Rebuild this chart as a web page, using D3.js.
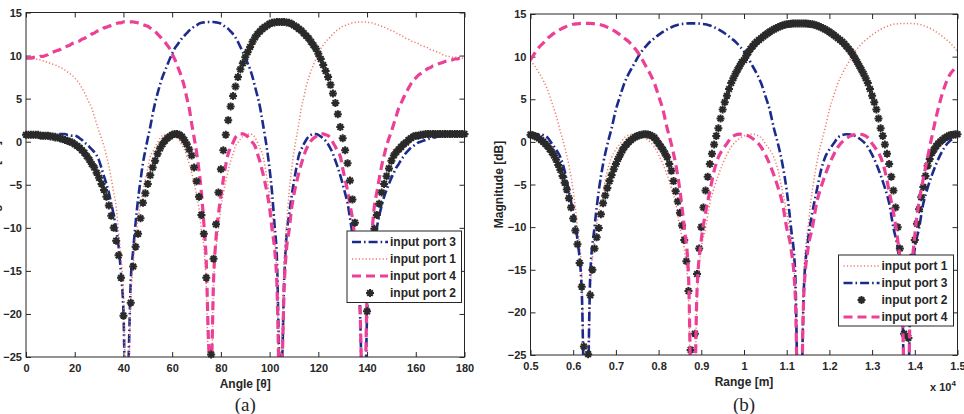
<!DOCTYPE html>
<html>
<head>
<meta charset="utf-8">
<script src="https://cdn.jsdelivr.net/npm/d3@7"></script>
<style>
  body { margin: 0; background: #fff; }
  svg text { font-family: "Liberation Sans", Arial, sans-serif; fill: #262626; }
</style>
</head>
<body>
<svg id="chart" width="964" height="414"></svg>
<script>
// ---------- data: panel (a), magnitude [dB] vs angle [deg] ----------
var angleA = [
  0,1,2,3,4,5,6,7,8,9, 10,11,12,13,14,15,16,17,18,19,
  20,21,22,23,24,25,26,27,28,29, 30,31,32,33,34,35,36,37,38,39,
  40,41,42,43,44,45,46,47,48,49, 50,51,52,53,54,55,56,57,58,59,
  60,61,62,63,64,65,66,67,68,69, 70,71,72,73,74,75,76,77,78,79,
  80,81,82,83,84,85,86,87,88,89, 90,91,92,93,94,95,96,97,98,99,
  100,101,102,103,104,105,106,107,108,109, 110,111,112,113,114,115,116,117,118,119,
  120,121,122,123,124,125,126,127,128,129, 130,131,132,133,134,135,136,137,138,139,
  140,141,142,143,144,145,146,147,148,149, 150,151,152,153,154,155,156,157,158,159,
  160,161,162,163,164,165,166,167,168,169, 170,171,172,173,174,175,176,177,178,179,
  180
];

var port2A = [
  0.8,0.8,0.8,0.8,0.8,0.8,0.7,0.7,0.7,0.7,
  0.6,0.6,0.5,0.5,0.4,0.3,0.2,0.1,0.0,-0.1,
  -0.3,-0.5,-0.7,-1.0,-1.3,-1.7,-2.1,-2.6,-3.0,-3.6,
  -4.2,-4.9,-5.6,-6.4,-7.4,-8.6,-10.0,-11.5,-13.2,-15.8,
  -20.2,-32,-29,-18.7,-14.5,-12.2,-10.7,-8.9,-7.1,-6.0,
  -4.9,-3.9,-3.0,-2.2,-1.4,-0.8,-0.3,0.1,0.4,0.6,
  0.8,0.9,0.9,0.8,0.6,0.2,-0.3,-0.9,-1.6,-3.0,
  -4.6,-6.4,-8.5,-10.7,-15.8,-25.7,-24.7,-13.6,-9.6,-5.9,
  -3.2,-1.0,0.8,2.5,4.1,5.3,6.4,7.5,8.4,9.1,
  9.8,10.4,11.0,11.6,12.1,12.5,12.8,13.1,13.3,13.5,
  13.7,13.8,13.85,13.9,13.9,13.9,13.9,13.85,13.8,13.7,
  13.5,13.35,13.1,12.9,12.6,12.3,12.0,11.6,11.2,10.8,
  10.2,9.6,8.9,8.2,7.5,6.6,5.6,4.5,3.2,1.7,
  0.4,-1.0,-2.5,-4.5,-6.7,-9.4,-12.6,-16.2,-26.3,-31.8,
  -19.7,-15.3,-12.1,-10.1,-8.5,-7.2,-5.9,-4.9,-4.0,-3.1,
  -2.2,-1.6,-1.2,-0.9,-0.6,-0.3,-0.1,0.2,0.4,0.6,
  0.7,0.7,0.8,0.8,0.9,0.9,0.9,0.9,0.9,0.9,
  0.9,0.9,0.9,0.9,0.9,0.9,0.9,0.9,0.9,0.9,
  0.9
];

var port3A = [
  0.9,
  0.9,0.9,0.9,0.9,0.9,0.9,0.9,0.9,0.9,0.9,
  0.9,0.9,0.9,0.9,0.9,0.9,0.8,0.8,0.7,0.7,
  0.6,0.4,0.2,-0.1,-0.3,-0.6,-0.9,-1.2,-1.6,-2.2,
  -3.1,-4.0,-4.9,-5.9,-7.2,-8.5,-10.1,-12.1,-15.3,-19.7,
  -31.8,-26.3,-16.2,-12.6,-9.4,-6.7,-4.5,-2.5,-1.0,0.4,
  1.7,3.2,4.5,5.6,6.6,7.5,8.2,8.9,9.6,10.2,
  10.8,11.2,11.6,12.0,12.3,12.6,12.9,13.1,13.35,13.5,
  13.7,13.8,13.85,13.9,13.9,13.9,13.9,13.85,13.8,13.7,
  13.5,13.3,13.1,12.8,12.5,12.1,11.6,11.0,10.4,9.8,
  9.1,8.4,7.5,6.4,5.3,4.1,2.5,0.8,-1.0,-3.2,
  -5.9,-9.6,-13.6,-24.7,-25.7,-15.8,-10.7,-8.5,-6.4,-4.6,
  -3.0,-1.6,-0.9,-0.3,0.2,0.6,0.8,0.9,0.9,0.8,
  0.6,0.4,0.1,-0.3,-0.8,-1.4,-2.2,-3.0,-3.9,-4.9,
  -6.0,-7.1,-8.9,-10.7,-12.2,-14.5,-18.7,-29,-32,-20.2,
  -15.8,-13.2,-11.5,-10.0,-8.6,-7.4,-6.4,-5.6,-4.9,-4.2,
  -3.6,-3.0,-2.6,-2.1,-1.7,-1.3,-1.0,-0.7,-0.5,-0.3,
  -0.1,0.0,0.1,0.2,0.3,0.4,0.5,0.5,0.6,0.6,
  0.7,0.7,0.7,0.7,0.8,0.8,0.8,0.8,0.8,0.8
];

var port4A = [
  9.7,9.7,9.7,9.8,9.8,9.8,9.9,9.9,10.0,10.1,
  10.3,10.4,10.5,10.6,10.7,10.9,11.0,11.1,11.2,11.4,
  11.5,11.6,11.7,11.9,12.0,12.2,12.3,12.5,12.6,12.8,
  12.9,13.0,13.2,13.3,13.4,13.5,13.6,13.7,13.8,13.8,
  13.9,13.9,13.9,13.9,13.9,13.85,13.8,13.7,13.6,13.5,
  13.4,13.2,13.0,12.8,12.5,12.2,11.9,11.6,11.2,10.8,
  10.2,9.6,8.9,8.2,7.4,6.4,5.1,3.9,2.1,0.5,
  -1.2,-3.3,-5.9,-9.5,-14.0,-23.7,-26.4,-16.0,-11.2,-8.4,
  -6.3,-4.4,-2.7,-1.4,-0.7,-0.1,0.5,0.8,0.9,0.9,
  0.8,0.6,0.3,-0.1,-0.5,-1.4,-2.3,-3.4,-4.6,-6.0,
  -7.7,-10.2,-12.3,-16.6,-27.2,-26.2,-16.8,-12.3,-10.3,-7.8,
  -6.1,-4.8,-3.6,-2.6,-1.7,-0.9,-0.4,0.1,0.4,0.6,
  0.8,0.9,0.9,0.8,0.7,0.4,-0.1,-0.6,-1.2,-1.7,
  -3.1,-4.4,-5.7,-7.3,-8.9,-11.2,-14.3,-18.2,-28.3,-29.8,
  -17.7,-13.5,-10.5,-7.5,-5.9,-4.3,-2.8,-1.6,-0.5,0.4,
  1.2,2.1,3.0,3.9,4.5,5.1,5.7,6.2,6.7,7.1,
  7.4,7.7,7.9,8.1,8.3,8.5,8.6,8.8,8.9,9.0,
  9.1,9.2,9.3,9.4,9.5,9.5,9.6,9.6,9.7,9.7,
  9.7
];

var port1A = [
  9.7,
  9.7,9.7,9.6,9.6,9.5,9.5,9.4,9.3,9.2,9.1,
  9.0,8.9,8.8,8.6,8.5,8.3,8.1,7.9,7.7,7.4,
  7.1,6.7,6.2,5.7,5.1,4.5,3.9,3.0,2.1,1.2,
  0.4,-0.5,-1.6,-2.8,-4.3,-5.9,-7.5,-10.5,-13.5,-17.7,
  -29.8,-28.3,-18.2,-14.3,-11.2,-8.9,-7.3,-5.7,-4.4,-3.1,
  -1.7,-1.2,-0.6,-0.1,0.4,0.7,0.8,0.9,0.9,0.8,
  0.6,0.4,0.1,-0.4,-0.9,-1.7,-2.6,-3.6,-4.8,-6.1,
  -7.8,-10.3,-12.3,-16.8,-26.2,-27.2,-16.6,-12.3,-10.2,-7.7,
  -6.0,-4.6,-3.4,-2.3,-1.4,-0.5,-0.1,0.3,0.6,0.8,
  0.9,0.9,0.8,0.5,-0.1,-0.7,-1.4,-2.7,-4.4,-6.3,
  -8.4,-11.2,-16.0,-26.4,-23.7,-14.0,-9.5,-5.9,-3.3,-1.2,
  0.5,2.1,3.9,5.1,6.4,7.4,8.2,8.9,9.6,10.2,
  10.8,11.2,11.6,11.9,12.2,12.5,12.8,13.0,13.2,13.4,
  13.5,13.6,13.7,13.8,13.85,13.9,13.9,13.9,13.9,13.9,
  13.8,13.8,13.7,13.6,13.5,13.4,13.3,13.2,13.0,12.9,
  12.8,12.6,12.5,12.3,12.2,12.0,11.9,11.7,11.6,11.5,
  11.4,11.2,11.1,11.0,10.9,10.7,10.6,10.5,10.4,10.3,
  10.1,10.0,9.9,9.9,9.8,9.8,9.8,9.7,9.7,9.7
];

// ---------- data: panel (b), magnitude [dB] vs range [m] ----------
var rangeB = [
  5000,5100,5200,5300,5400,5500,5600,5700,5800,5900,
  6000,6100,6200,6300,6400,6500,6600,6700,6800,6900,
  7000,7100,7200,7300,7400,7500,7600,7700,7800,7900,
  8000,8100,8200,8300,8400,8500,8600,8700,8800,8900,
  9000,9100,9200,9300,9400,9500,9600,9700,9800,9900,
  10000,10100,10200,10300,10400,10500,10600,10700,10800,10900,
  11000,11100,11200,11300,11400,11500,11600,11700,11800,11900,
  12000,12100,12200,12300,12400,12500,12600,12700,12800,12900,
  13000,13100,13200,13300,13400,13500,13600,13700,13800,13900,
  14000,14100,14200,14300,14400,14500,14600,14700,14800,14900,
  15000
];

// port 2 is drawn with markers, read on a finer range step
var rangeB2 = [
  5000,5050,5100,5150,5200,5250,5300,5350,5400,5450,
  5500,5550,5600,5650,5700,5750,5800,5850,5900,5950,
  6000,6050,6100,6150,6200,6250,6300,6350,6400,6450,
  6500,6550,6600,6650,6700,6750,6800,6850,6900,6950,
  7000,7050,7100,7150,7200,7250,7300,7350,7400,7450,
  7500,7550,7600,7650,7700,7750,7800,7850,7900,7950,
  8000,8050,8100,8150,8200,8250,8300,8350,8400,8450,
  8500,8550,8600,8650,8700,8750,8800,8850,8900,8950,
  9000,9050,9100,9150,9200,9250,9300,9350,9400,9450,
  9500,9550,9600,9650,9700,9750,9800,9850,9900,9950,
  10000,10050,10100,10150,10200,10250,10300,10350,10400,10450,
  10500,10550,10600,10650,10700,10750,10800,10850,10900,10950,
  11000,11050,11100,11150,11200,11250,11300,11350,11400,11450,
  11500,11550,11600,11650,11700,11750,11800,11850,11900,11950,
  12000,12050,12100,12150,12200,12250,12300,12350,12400,12450,
  12500,12550,12600,12650,12700,12750,12800,12850,12900,12950,
  13000,13050,13100,13150,13200,13250,13300,13350,13400,13450,
  13500,13550,13600,13650,13700,13750,13800,13850,13900,13950,
  14000,14050,14100,14150,14200,14250,14300,14350,14400,14450,
  14500,14550,14600,14650,14700,14750,14800,14850,14900,14950,
  15000
];

var port1B = [
  9.5,8.9,8.1,7.2,6.1,4.6,3.1,1.2,-0.6,-2.8,
  -5.7,-10.0,-15.5,-40,-17.5,-11.5,-8.3,-5.8,-3.4,-1.8,
  -0.9,-0.2,0.5,0.8,0.9,0.85,0.7,0.4,0.0,-0.6,
  -1.5,-2.6,-3.9,-5.4,-7.2,-10.1,-12.5,-18.0,-40,-18.0,
  -12.5,-10.1,-7.2,-5.4,-3.9,-2.6,-1.5,-0.6,0.0,0.4,
  0.7,0.85,0.9,0.8,0.5,-0.2,-0.9,-1.8,-3.4,-5.8,
  -8.3,-11.5,-17.5,-40,-15.5,-10.0,-5.7,-2.6,-0.3,1.6,
  3.8,5.4,6.9,8.0,8.9,9.8,10.6,11.2,11.75,12.15,
  12.55,12.9,13.2,13.45,13.65,13.8,13.85,13.9,13.9,13.9,
  13.85,13.8,13.65,13.45,13.2,12.9,12.55,12.15,11.75,11.2,
  10.6
];

var port2B = [
  0.85,0.78,0.7,0.56,0.4,0.2,0.0,-0.25,-0.5,-0.85,
  -1.2,-1.6,-2.1,-2.7,-3.3,-4.0,-4.8,-5.6,-6.6,-7.7,
  -9.0,-10.4,-12.0,-14.2,-17.0,-24,-40,-24.9,-18.0,-15.0,
  -12.5,-11.2,-10.1,-8.5,-7.2,-6.3,-5.4,-4.6,-3.9,-3.2,
  -2.6,-2.0,-1.5,-1.0,-0.6,-0.3,0.0,0.2,0.4,0.56,
  0.7,0.78,0.85,0.89,0.9,0.87,0.8,0.67,0.5,0.15,
  -0.2,-0.55,-0.9,-1.35,-1.8,-2.6,-3.4,-4.6,-5.8,-7.0,
  -8.3,-9.8,-11.5,-14.0,-17.5,-24.4,-40,-22.5,-15.5,-12.5,
  -10.0,-7.7,-5.7,-4.1,-2.6,-1.4,-0.3,0.7,1.6,2.75,
  3.8,4.65,5.4,6.2,6.9,7.47,8.0,8.47,8.9,9.37,
  9.6,10.1,10.5,10.9,11.2,11.5,11.75,11.96,12.15,12.36,
  12.55,12.73,12.9,13.06,13.2,13.33,13.45,13.56,13.65,13.73,
  13.8,13.83,13.85,13.88,13.9,13.9,13.9,13.9,13.9,13.88,
  13.85,13.83,13.8,13.73,13.65,13.56,13.45,13.33,13.2,13.06,
  12.9,12.73,12.55,12.36,12.15,11.96,11.75,11.5,11.2,10.92,
  10.6,10.22,9.8,9.37,8.9,8.47,8.0,7.47,6.9,6.2,
  5.4,4.65,3.8,2.75,1.6,0.7,-0.3,-1.4,-2.6,-4.1,
  -5.7,-7.7,-10.0,-12.5,-15.5,-22.5,-40,-23,-16,-13.5,
  -11.5,-9.6,-7.9,-6.5,-5.3,-4.0,-2.8,-2.0,-1.3,-0.9,
  -0.5,-0.2,0.05,0.25,0.45,0.6,0.75,0.8,0.85,0.88,
  0.9
];

var port3B = [
  0.7,0.85,0.9,0.8,0.5,-0.2,-0.9,-1.8,-3.4,-5.8,
  -8.3,-11.5,-17.5,-40,-15.5,-10.0,-5.7,-2.6,-0.3,1.6,
  3.8,5.4,6.9,8.0,8.9,9.8,10.6,11.2,11.75,12.15,
  12.55,12.9,13.2,13.45,13.65,13.8,13.85,13.9,13.9,13.9,
  13.85,13.8,13.65,13.45,13.2,12.9,12.55,12.15,11.75,11.2,
  10.6,9.8,8.9,8.0,6.9,5.4,3.8,1.6,-0.3,-2.6,
  -5.7,-10.0,-15.5,-40,-17.5,-11.5,-8.3,-5.8,-3.4,-1.8,
  -0.9,-0.2,0.5,0.8,0.9,0.85,0.7,0.4,0.0,-0.6,
  -1.5,-2.6,-3.9,-5.4,-7.2,-10.1,-12.5,-18.0,-40,-18.0,
  -12.5,-10.1,-7.2,-5.4,-3.9,-2.6,-1.5,-0.6,0.0,0.4,
  0.7
];

var port4B = [
  9.6,10.4,11.1,11.6,12.15,12.55,12.9,13.2,13.45,13.65,
  13.8,13.85,13.9,13.9,13.9,13.85,13.8,13.65,13.45,13.2,
  12.9,12.55,12.15,11.75,11.2,10.6,9.8,8.9,8.0,6.9,
  5.4,3.8,1.6,-0.3,-2.6,-5.7,-10.0,-15.5,-40,-17.5,
  -11.5,-8.3,-5.8,-3.4,-1.8,-0.9,-0.2,0.5,0.8,0.9,
  0.85,0.7,0.4,0.0,-0.6,-1.5,-2.6,-3.9,-5.4,-7.2,
  -10.1,-12.5,-18.0,-40,-18.0,-12.5,-10.1,-7.2,-5.4,-3.9,
  -2.6,-1.5,-0.6,0.0,0.4,0.7,0.85,0.9,0.8,0.5,
  -0.2,-0.9,-1.8,-3.4,-5.8,-8.3,-11.5,-17.5,-40,-18.0,
  -11.0,-7.0,-4.3,-1.8,0.6,2.9,4.9,6.5,7.7,8.4,
  8.9
];

// ---------- ticks and labels ----------
var magTicks = [-25, -20, -15, -10, -5, 0, 5, 10, 15];
var angleTicks = [0, 20, 40, 60, 80, 100, 120, 140, 160, 180];
var rangeTicks = [5000, 6000, 7000, 8000, 9000, 10000, 11000, 12000, 13000, 14000, 15000];
var rangeTickLabels = ["0.5", "0.6", "0.7", "0.8", "0.9", "1", "1.1", "1.2", "1.3", "1.4", "1.5"];

// line styles per input port
var portStyle = {
  "input port 1": { color: "#f07a68", width: 1.5, dash: "1.2,2.2" },
  "input port 2": { color: "#2a2a2a", marker: true },
  "input port 3": { color: "#1b2a8c", width: 2.6, dash: "9,3,1.6,3" },
  "input port 4": { color: "#ec4096", width: 3.2, dash: "9,5" }
};

var svg = d3.select("#chart");
var ink = "#262626";

// 8-armed asterisk marker like the one MATLAB draws
function asteriskPath(r) {
  var a = r * Math.SQRT1_2;
  return "M" + (-r) + ",0L" + r + ",0M0," + (-r) + "L0," + r +
         "M" + (-a) + "," + (-a) + "L" + a + "," + a +
         "M" + (-a) + "," + a + "L" + a + "," + (-a);
}

function drawPanel(cfg) {
  var g = svg.append("g");

  var x = d3.scaleLinear().domain(cfg.xDomain).range([cfg.left, cfg.right]);
  var y = d3.scaleLinear().domain([-25, 15]).range([cfg.bottom, cfg.top]);

  // clip for the lines
  svg.append("clipPath").attr("id", "clip-" + cfg.id)
    .append("rect")
    .attr("x", cfg.left).attr("y", cfg.top)
    .attr("width", cfg.right - cfg.left).attr("height", cfg.bottom - cfg.top);

  // axes with inward ticks on all four sides
  var bottomAxis = d3.axisBottom(x).tickValues(cfg.xTicks).tickSize(-5).tickPadding(7)
    .tickFormat(function(d, i) { return cfg.xLabels ? cfg.xLabels[i] : d; });
  var leftAxis = d3.axisLeft(y).tickValues(magTicks).tickSize(-5).tickPadding(4);

  g.append("g").attr("transform", "translate(0," + cfg.bottom + ")").call(bottomAxis);
  g.append("g").attr("transform", "translate(0," + cfg.top + ")")
    .call(d3.axisTop(x).tickValues(cfg.xTicks).tickSize(-5).tickFormat(""));
  g.append("g").attr("transform", "translate(" + cfg.left + ",0)").call(leftAxis);
  g.append("g").attr("transform", "translate(" + cfg.right + ",0)")
    .call(d3.axisRight(y).tickValues(magTicks).tickSize(-5).tickFormat(""));

  g.selectAll(".domain").remove();
  g.selectAll(".tick line").attr("stroke", ink);
  g.selectAll(".tick text")
    .style("font-family", '"Liberation Sans", Arial, sans-serif')
    .style("font-size", "11px").style("font-weight", "bold").attr("fill", ink);

  // series
  var plot = g.append("g");
  cfg.series.forEach(function(s) {
    var st = portStyle[s.name];
    var pts = s.xs.map(function(xv, i) { return { x: xv, v: s.values[i] }; });
    if (st.marker) {
      plot.selectAll(null)
        .data(pts.filter(function(d) { return d.v >= -25; }))
        .enter().append("path")
        .attr("transform", function(d) { return "translate(" + x(d.x) + "," + y(d.v) + ")"; })
        .attr("d", asteriskPath(4))
        .attr("fill", "none")
        .attr("stroke", st.color)
        .attr("stroke-width", 2);
    } else {
      var line = d3.line()
        .x(function(d) { return x(d.x); })
        .y(function(d) { return y(d.v); })
        .curve(d3.curveMonotoneX);
      plot.append("path")
        .datum(pts)
        .attr("clip-path", "url(#clip-" + cfg.id + ")")
        .attr("fill", "none")
        .attr("stroke", st.color)
        .attr("stroke-width", st.width)
        .attr("stroke-dasharray", st.dash)
        .attr("d", line);
    }
  });

  // axes box
  g.append("rect")
    .attr("x", cfg.left).attr("y", cfg.top)
    .attr("width", cfg.right - cfg.left).attr("height", cfg.bottom - cfg.top)
    .attr("fill", "none").attr("stroke", ink).attr("stroke-width", 1);

  // legend
  var lg = cfg.legend;
  var legend = g.append("g");
  legend.append("rect")
    .attr("x", lg.x).attr("y", lg.y).attr("width", lg.w).attr("height", lg.h)
    .attr("fill", "#fff").attr("stroke", ink).attr("stroke-width", 1);
  lg.order.forEach(function(name, i) {
    var st = portStyle[name];
    var cy = lg.y + 11 + i * 17;
    if (st.marker) {
      legend.append("path")
        .attr("transform", "translate(" + (lg.x + 23) + "," + cy + ")")
        .attr("d", asteriskPath(4))
        .attr("fill", "none").attr("stroke", st.color).attr("stroke-width", 2);
    } else {
      legend.append("line")
        .attr("x1", lg.x + 5).attr("x2", lg.x + 41)
        .attr("y1", cy).attr("y2", cy)
        .attr("stroke", st.color).attr("stroke-width", st.width)
        .attr("stroke-dasharray", st.dash);
    }
    legend.append("text")
      .attr("x", lg.x + 43).attr("y", cy + 4)
      .style("font-size", "12px").style("font-weight", "bold")
      .text(name);
  });

  // axis titles
  var midX = (cfg.left + cfg.right) / 2;
  var midY = (cfg.top + cfg.bottom) / 2;
  g.append("text")
    .attr("x", midX).attr("y", cfg.bottom + 31)
    .attr("text-anchor", "middle")
    .style("font-size", "12px").style("font-weight", "bold")
    .text(cfg.xTitle);
  g.append("text")
    .attr("transform", "translate(" + (cfg.left - 27.5) + "," + midY + ") rotate(-90)")
    .attr("text-anchor", "middle")
    .style("font-size", "12px").style("font-weight", "bold")
    .text("Magnitude [dB]");
  g.append("text")
    .attr("x", midX).attr("y", 411)
    .attr("text-anchor", "middle")
    .style("font-family", '"Liberation Serif", "Times New Roman", serif')
    .style("font-size", "19px")
    .text(cfg.caption);

  return g;
}

drawPanel({
  id: "a", left: 26, right: 464.5, top: 12.5, bottom: 357,
  xDomain: [0, 180], xTicks: angleTicks,
  series: [
    { name: "input port 3", xs: angleA, values: port3A },
    { name: "input port 1", xs: angleA, values: port1A },
    { name: "input port 4", xs: angleA, values: port4A },
    { name: "input port 2", xs: angleA, values: port2A }
  ],
  legend: { x: 347, y: 231, w: 114.5, h: 71.5,
            order: ["input port 3", "input port 1", "input port 4", "input port 2"] },
  xTitle: "Angle [\u03b8]", caption: "(a)"
});

var panelB = drawPanel({
  id: "b", left: 530.5, right: 957.5, top: 14, bottom: 355,
  xDomain: [5000, 15000], xTicks: rangeTicks, xLabels: rangeTickLabels,
  series: [
    { name: "input port 1", xs: rangeB, values: port1B },
    { name: "input port 3", xs: rangeB, values: port3B },
    { name: "input port 2", xs: rangeB2, values: port2B },
    { name: "input port 4", xs: rangeB, values: port4B }
  ],
  legend: { x: 838.5, y: 255, w: 115, h: 71,
            order: ["input port 1", "input port 3", "input port 2", "input port 4"] },
  xTitle: "Range [m]", caption: "(b)"
});

// axis multiplier for panel (b)
var mult = panelB.append("text")
  .attr("x", 930).attr("y", 391)
  .style("font-size", "11px").style("font-weight", "bold");
mult.append("tspan").text("x 10");
mult.append("tspan").attr("dy", -5).style("font-size", "8px").text("4");
</script>
</body>
</html>
